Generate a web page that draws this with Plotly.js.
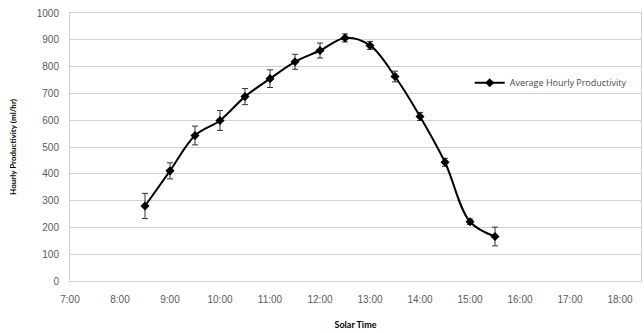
<!DOCTYPE html>
<html>
<head>
<meta charset="utf-8">
<script src="https://cdn.plot.ly/plotly-3.0.1.min.js"></script>
<style>html,body{margin:0;padding:0;background:#fff;}#chart{width:644px;height:333px;}</style>
</head>
<body>
<div id="chart"></div>
<script>
// Solar time in hours
const solarTime = [8.5, 9, 9.5, 10, 10.5, 11, 11.5, 12, 12.5, 13, 13.5, 14, 14.5, 15, 15.5];
const productivity = [280, 411, 543, 599, 688, 755, 818, 860, 907, 879, 763, 614, 443, 221, 166];
const errorValues = [47, 30, 35, 37, 30, 33, 28, 28, 15, 15, 20, 15, 15, 10, 35];
const tickValues = [7, 8, 9, 10, 11, 12, 13, 14, 15, 16, 17, 18];
const tickLabels = ["7:00", "8:00", "9:00", "10:00", "11:00", "12:00", "13:00", "14:00", "15:00", "16:00", "17:00", "18:00"];
const yTicks = [0, 100, 200, 300, 400, 500, 600, 700, 800, 900, 1000];

const trace = {
  x: solarTime,
  y: productivity,
  type: 'scatter',
  mode: 'lines+markers',
  name: 'Average Hourly Productivity',
  line: {color: '#000000', width: 2, shape: 'spline', smoothing: 1},
  marker: {symbol: 'diamond', size: 7, color: '#000000'},
  error_y: {type: 'data', array: errorValues, visible: true, color: '#333333', thickness: 1, width: 3}
};

const layout = {
  width: 644,
  height: 333,
  margin: {l: 70, r: 3, t: 13, b: 52},
  paper_bgcolor: '#ffffff',
  plot_bgcolor: '#ffffff',
  showlegend: true,
  legend: {
    x: 0.700, y: 0.74, xanchor: 'left', yanchor: 'middle',
    bgcolor: 'rgba(0,0,0,0)',
    font: {family: 'Open Sans, sans-serif', size: 9, color: '#404a5a'}
  },
  xaxis: {
    range: [7, 18.42],
    tickmode: 'array',
    tickvals: tickValues,
    ticktext: tickLabels,
    showgrid: false,
    zeroline: false,
    showline: true,
    linecolor: '#d0d0d0',
    linewidth: 1,
    mirror: true,
    ticks: '',
    ticklabelstandoff: 9,
    tickfont: {family: 'Liberation Sans, Arial, sans-serif', size: 10, color: '#595959'},
    title: {text: 'Solar Time', font: {family: 'Lato, sans-serif', size: 9, color: '#000000', weight: 'bold'}, standoff: 17}
  },
  yaxis: {
    range: [0, 1000],
    tickmode: 'array',
    tickvals: yTicks,
    showgrid: true,
    gridcolor: '#d0d0d0',
    gridwidth: 1,
    zeroline: false,
    showline: true,
    linecolor: '#d0d0d0',
    linewidth: 1,
    mirror: true,
    ticks: '',
    ticklabelstandoff: 8,
    tickfont: {family: 'Liberation Sans, Arial, sans-serif', size: 10, color: '#595959'},
    title: {text: 'Hourly Productivity (ml/hr)', font: {family: 'Lato, sans-serif', size: 8, color: '#000000', weight: 'bold'}, standoff: 18}
  }
};

Plotly.newPlot('chart', [trace], layout, {displayModeBar: false, staticPlot: true});
</script>
</body>
</html>
